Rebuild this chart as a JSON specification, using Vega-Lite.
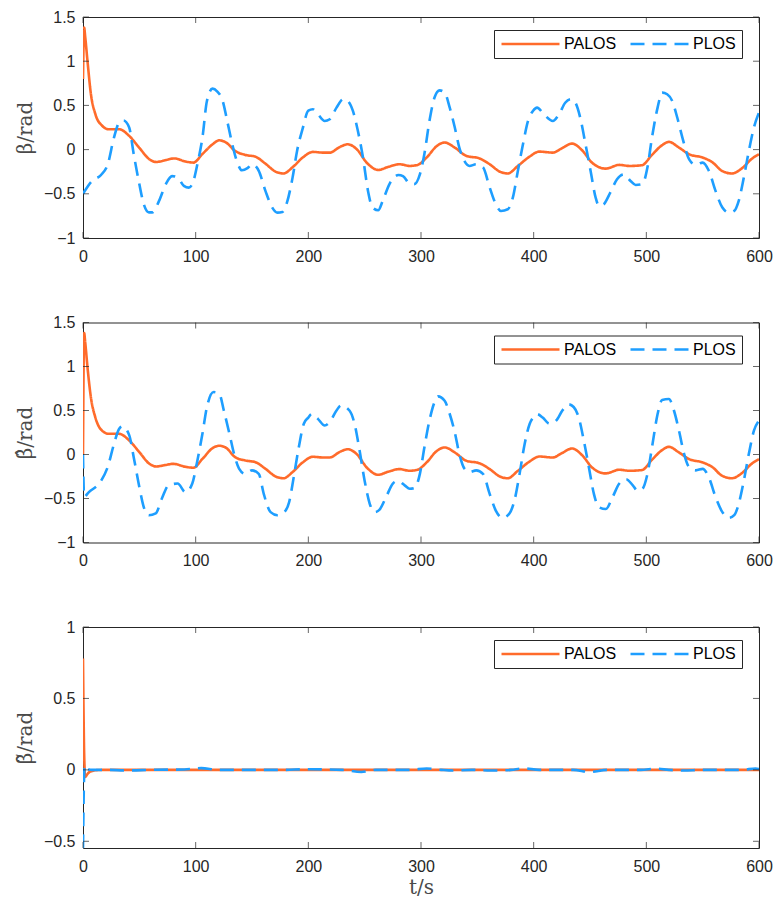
{
  "$schema": "https://vega.github.io/schema/vega-lite/v6.json",
  "background": "white",
  "padding": {"left": 14, "top": 8, "right": 14, "bottom": 10},
  "bounds": "flush",
  "spacing": 84.5,
  "config": {
    "view": {"stroke": "#262626", "strokeWidth": 1},
    "axis": {
      "grid": false,
      "domain": false,
      "ticks": false,
      "labelFlush": false,
      "labelFont": "Liberation Sans",
      "labelFontSize": 16,
      "labelColor": "#262626",
      "titleFont": "DejaVu Serif",
      "titleFontWeight": "normal",
      "titleFontSize": 20,
      "titleColor": "#4a4a4a"
    },
    "axisLeft": {"labelPadding": 8, "titlePadding": 8},
    "axisBottom": {"labelPadding": 10, "titlePadding": 3},
    "tick": {"color": "#262626", "thickness": 1, "size": 6},
    "legend": {
      "direction": "horizontal",
      "title": null,
      "strokeColor": "#262626",
      "fillColor": "white",
      "padding": 6,
      "labelFont": "Liberation Sans",
      "labelFontSize": 16,
      "labelColor": "#000000",
      "symbolType": "stroke",
      "symbolSize": 3364,
      "symbolStrokeWidth": 2.6,
      "clipHeight": 16,
      "labelOffset": 3,
      "columnPadding": 12,
      "labelLimit": 200
    }
  },
  "resolve": {
    "legend": {"color": "independent", "strokeDash": "independent"}
  },
  "datasets": {
    "xticks": [{"tick":0},{"tick":100},{"tick":200},{"tick":300},{"tick":400},{"tick":500},{"tick":600}],
    "yticksWide": [{"tick":-1},{"tick":-0.5},{"tick":0},{"tick":0.5},{"tick":1},{"tick":1.5}],
    "yticksErr": [{"tick":-0.5},{"tick":0},{"tick":0.5},{"tick":1}]
  },
  "data": {
    "values": [
      {"panel":1,"method":"PALOS","t":0,"v":0.8},{"panel":1,"method":"PALOS","t":1,"v":1.38},{"panel":1,"method":"PALOS","t":2,"v":1.27},{"panel":1,"method":"PALOS","t":4,"v":1.0},{"panel":1,"method":"PALOS","t":7,"v":0.63},{"panel":1,"method":"PALOS","t":11,"v":0.4},{"panel":1,"method":"PALOS","t":17,"v":0.27},{"panel":1,"method":"PALOS","t":23,"v":0.23},{"panel":1,"method":"PALOS","t":32,"v":0.23},{"panel":1,"method":"PALOS","t":41,"v":0.155},{"panel":1,"method":"PALOS","t":50,"v":0.02},{"panel":1,"method":"PALOS","t":59,"v":-0.11},{"panel":1,"method":"PALOS","t":65,"v":-0.14},{"panel":1,"method":"PALOS","t":73,"v":-0.12},{"panel":1,"method":"PALOS","t":81,"v":-0.1},{"panel":1,"method":"PALOS","t":91,"v":-0.135},{"panel":1,"method":"PALOS","t":98,"v":-0.147},{"panel":1,"method":"PALOS","t":106,"v":-0.05},{"panel":1,"method":"PALOS","t":115,"v":0.06},{"panel":1,"method":"PALOS","t":121,"v":0.105},{"panel":1,"method":"PALOS","t":127,"v":0.08},{"panel":1,"method":"PALOS","t":135,"v":-0.015},{"panel":1,"method":"PALOS","t":144,"v":-0.06},{"panel":1,"method":"PALOS","t":153,"v":-0.08},{"panel":1,"method":"PALOS","t":162,"v":-0.16},{"panel":1,"method":"PALOS","t":171,"v":-0.25},{"panel":1,"method":"PALOS","t":178,"v":-0.27},{"panel":1,"method":"PALOS","t":186,"v":-0.2},{"panel":1,"method":"PALOS","t":195,"v":-0.09},{"panel":1,"method":"PALOS","t":204,"v":-0.026},{"panel":1,"method":"PALOS","t":213,"v":-0.034},{"panel":1,"method":"PALOS","t":219,"v":-0.034},{"panel":1,"method":"PALOS","t":228,"v":0.03},{"panel":1,"method":"PALOS","t":235,"v":0.06},{"panel":1,"method":"PALOS","t":243,"v":0.004},{"panel":1,"method":"PALOS","t":252,"v":-0.15},{"panel":1,"method":"PALOS","t":262,"v":-0.23},{"panel":1,"method":"PALOS","t":271,"v":-0.195},{"panel":1,"method":"PALOS","t":281,"v":-0.166},{"panel":1,"method":"PALOS","t":290,"v":-0.185},{"panel":1,"method":"PALOS","t":297,"v":-0.173},{"panel":1,"method":"PALOS","t":305,"v":-0.09},{"panel":1,"method":"PALOS","t":314,"v":0.04},{"panel":1,"method":"PALOS","t":321,"v":0.08},{"panel":1,"method":"PALOS","t":330,"v":0.023},{"panel":1,"method":"PALOS","t":340,"v":-0.07},{"panel":1,"method":"PALOS","t":352,"v":-0.1},{"panel":1,"method":"PALOS","t":361,"v":-0.166},{"panel":1,"method":"PALOS","t":370,"v":-0.25},{"panel":1,"method":"PALOS","t":377,"v":-0.27},{"panel":1,"method":"PALOS","t":386,"v":-0.185},{"panel":1,"method":"PALOS","t":396,"v":-0.083},{"panel":1,"method":"PALOS","t":405,"v":-0.023},{"panel":1,"method":"PALOS","t":417,"v":-0.034},{"panel":1,"method":"PALOS","t":425,"v":0.015},{"panel":1,"method":"PALOS","t":434,"v":0.068},{"panel":1,"method":"PALOS","t":443,"v":-0.008},{"panel":1,"method":"PALOS","t":452,"v":-0.15},{"panel":1,"method":"PALOS","t":464,"v":-0.215},{"panel":1,"method":"PALOS","t":476,"v":-0.173},{"panel":1,"method":"PALOS","t":485,"v":-0.185},{"panel":1,"method":"PALOS","t":496,"v":-0.177},{"panel":1,"method":"PALOS","t":505,"v":-0.06},{"panel":1,"method":"PALOS","t":514,"v":0.05},{"panel":1,"method":"PALOS","t":520,"v":0.087},{"panel":1,"method":"PALOS","t":529,"v":0.023},{"panel":1,"method":"PALOS","t":538,"v":-0.053},{"panel":1,"method":"PALOS","t":550,"v":-0.09},{"panel":1,"method":"PALOS","t":559,"v":-0.147},{"panel":1,"method":"PALOS","t":567,"v":-0.24},{"panel":1,"method":"PALOS","t":576,"v":-0.27},{"panel":1,"method":"PALOS","t":585,"v":-0.21},{"panel":1,"method":"PALOS","t":594,"v":-0.1},{"panel":1,"method":"PALOS","t":600,"v":-0.053},

      {"panel":1,"method":"PLOS","t":0,"v":-0.5},{"panel":1,"method":"PLOS","t":8,"v":-0.355},{"panel":1,"method":"PLOS","t":16,"v":-0.287},{"panel":1,"method":"PLOS","t":22,"v":-0.166},{"panel":1,"method":"PLOS","t":27.5,"v":0.136},{"panel":1,"method":"PLOS","t":32,"v":0.305},{"panel":1,"method":"PLOS","t":36,"v":0.33},{"panel":1,"method":"PLOS","t":41,"v":0.25},{"panel":1,"method":"PLOS","t":45,"v":-0.05},{"panel":1,"method":"PLOS","t":50,"v":-0.39},{"panel":1,"method":"PLOS","t":54,"v":-0.62},{"panel":1,"method":"PLOS","t":58.5,"v":-0.71},{"panel":1,"method":"PLOS","t":61.5,"v":-0.71},{"panel":1,"method":"PLOS","t":67.5,"v":-0.58},{"panel":1,"method":"PLOS","t":73.5,"v":-0.39},{"panel":1,"method":"PLOS","t":79,"v":-0.3},{"panel":1,"method":"PLOS","t":84,"v":-0.317},{"panel":1,"method":"PLOS","t":89.5,"v":-0.41},{"panel":1,"method":"PLOS","t":94,"v":-0.43},{"panel":1,"method":"PLOS","t":98.5,"v":-0.335},{"panel":1,"method":"PLOS","t":101.5,"v":-0.166},{"panel":1,"method":"PLOS","t":106,"v":0.136},{"panel":1,"method":"PLOS","t":110,"v":0.55},{"panel":1,"method":"PLOS","t":115,"v":0.69},{"panel":1,"method":"PLOS","t":119,"v":0.66},{"panel":1,"method":"PLOS","t":124,"v":0.55},{"panel":1,"method":"PLOS","t":128,"v":0.324},{"panel":1,"method":"PLOS","t":132.5,"v":0.06},{"panel":1,"method":"PLOS","t":137,"v":-0.147},{"panel":1,"method":"PLOS","t":141,"v":-0.234},{"panel":1,"method":"PLOS","t":146,"v":-0.21},{"panel":1,"method":"PLOS","t":150,"v":-0.166},{"panel":1,"method":"PLOS","t":156,"v":-0.24},{"panel":1,"method":"PLOS","t":162,"v":-0.47},{"panel":1,"method":"PLOS","t":168,"v":-0.656},{"panel":1,"method":"PLOS","t":172.5,"v":-0.713},{"panel":1,"method":"PLOS","t":177,"v":-0.705},{"panel":1,"method":"PLOS","t":181,"v":-0.6},{"panel":1,"method":"PLOS","t":186,"v":-0.317},{"panel":1,"method":"PLOS","t":190,"v":-0.015},{"panel":1,"method":"PLOS","t":195,"v":0.24},{"panel":1,"method":"PLOS","t":200,"v":0.44},{"panel":1,"method":"PLOS","t":204,"v":0.456},{"panel":1,"method":"PLOS","t":208.5,"v":0.4},{"panel":1,"method":"PLOS","t":214.5,"v":0.324},{"panel":1,"method":"PLOS","t":219,"v":0.343},{"panel":1,"method":"PLOS","t":225,"v":0.475},{"panel":1,"method":"PLOS","t":231,"v":0.57},{"panel":1,"method":"PLOS","t":235,"v":0.55},{"panel":1,"method":"PLOS","t":239.5,"v":0.44},{"panel":1,"method":"PLOS","t":244,"v":0.21},{"panel":1,"method":"PLOS","t":248.5,"v":-0.09},{"panel":1,"method":"PLOS","t":253,"v":-0.47},{"panel":1,"method":"PLOS","t":257,"v":-0.656},{"panel":1,"method":"PLOS","t":262,"v":-0.686},{"panel":1,"method":"PLOS","t":266,"v":-0.58},{"panel":1,"method":"PLOS","t":272,"v":-0.39},{"panel":1,"method":"PLOS","t":280,"v":-0.287},{"panel":1,"method":"PLOS","t":284,"v":-0.3},{"panel":1,"method":"PLOS","t":290,"v":-0.385},{"panel":1,"method":"PLOS","t":294,"v":-0.39},{"panel":1,"method":"PLOS","t":299,"v":-0.28},{"panel":1,"method":"PLOS","t":303,"v":-0.05},{"panel":1,"method":"PLOS","t":307.5,"v":0.324},{"panel":1,"method":"PLOS","t":312,"v":0.59},{"panel":1,"method":"PLOS","t":316.5,"v":0.67},{"panel":1,"method":"PLOS","t":321,"v":0.645},{"panel":1,"method":"PLOS","t":325.5,"v":0.475},{"panel":1,"method":"PLOS","t":330,"v":0.25},{"panel":1,"method":"PLOS","t":334,"v":0.023},{"panel":1,"method":"PLOS","t":338.5,"v":-0.128},{"panel":1,"method":"PLOS","t":343,"v":-0.185},{"panel":1,"method":"PLOS","t":349,"v":-0.166},{"panel":1,"method":"PLOS","t":355,"v":-0.2},{"panel":1,"method":"PLOS","t":361,"v":-0.43},{"panel":1,"method":"PLOS","t":366.5,"v":-0.62},{"panel":1,"method":"PLOS","t":371,"v":-0.694},{"panel":1,"method":"PLOS","t":377,"v":-0.675},{"panel":1,"method":"PLOS","t":381.5,"v":-0.543},{"panel":1,"method":"PLOS","t":386,"v":-0.24},{"panel":1,"method":"PLOS","t":390.5,"v":0.06},{"panel":1,"method":"PLOS","t":395,"v":0.324},{"panel":1,"method":"PLOS","t":399.5,"v":0.44},{"panel":1,"method":"PLOS","t":403,"v":0.475},{"panel":1,"method":"PLOS","t":409,"v":0.4},{"panel":1,"method":"PLOS","t":417,"v":0.324},{"panel":1,"method":"PLOS","t":422.5,"v":0.4},{"panel":1,"method":"PLOS","t":428,"v":0.53},{"panel":1,"method":"PLOS","t":433,"v":0.57},{"panel":1,"method":"PLOS","t":437,"v":0.53},{"panel":1,"method":"PLOS","t":442,"v":0.324},{"panel":1,"method":"PLOS","t":446,"v":0.06},{"panel":1,"method":"PLOS","t":450.5,"v":-0.24},{"panel":1,"method":"PLOS","t":455,"v":-0.543},{"panel":1,"method":"PLOS","t":458,"v":-0.637},{"panel":1,"method":"PLOS","t":462,"v":-0.62},{"panel":1,"method":"PLOS","t":468,"v":-0.486},{"panel":1,"method":"PLOS","t":474,"v":-0.335},{"panel":1,"method":"PLOS","t":480,"v":-0.28},{"panel":1,"method":"PLOS","t":486,"v":-0.355},{"panel":1,"method":"PLOS","t":490.5,"v":-0.4},{"panel":1,"method":"PLOS","t":496.5,"v":-0.39},{"panel":1,"method":"PLOS","t":501,"v":-0.2},{"panel":1,"method":"PLOS","t":505,"v":0.136},{"panel":1,"method":"PLOS","t":510,"v":0.475},{"panel":1,"method":"PLOS","t":514,"v":0.645},{"panel":1,"method":"PLOS","t":518.5,"v":0.626},{"panel":1,"method":"PLOS","t":523,"v":0.55},{"panel":1,"method":"PLOS","t":527.5,"v":0.36},{"panel":1,"method":"PLOS","t":532,"v":0.136},{"panel":1,"method":"PLOS","t":538,"v":-0.11},{"panel":1,"method":"PLOS","t":544,"v":-0.173},{"panel":1,"method":"PLOS","t":550,"v":-0.147},{"panel":1,"method":"PLOS","t":555.5,"v":-0.24},{"panel":1,"method":"PLOS","t":561.5,"v":-0.47},{"panel":1,"method":"PLOS","t":567.5,"v":-0.656},{"panel":1,"method":"PLOS","t":573.5,"v":-0.713},{"panel":1,"method":"PLOS","t":578,"v":-0.694},{"panel":1,"method":"PLOS","t":582,"v":-0.58},{"panel":1,"method":"PLOS","t":586.5,"v":-0.317},{"panel":1,"method":"PLOS","t":591,"v":-0.015},{"panel":1,"method":"PLOS","t":595.5,"v":0.25},{"panel":1,"method":"PLOS","t":600,"v":0.42},

      {"panel":2,"method":"PALOS","t":0,"v":0},{"panel":2,"method":"PALOS","t":1,"v":1.38},{"panel":2,"method":"PALOS","t":2,"v":1.27},{"panel":2,"method":"PALOS","t":4,"v":0.99},{"panel":2,"method":"PALOS","t":7,"v":0.65},{"panel":2,"method":"PALOS","t":11,"v":0.42},{"panel":2,"method":"PALOS","t":17,"v":0.27},{"panel":2,"method":"PALOS","t":23,"v":0.235},{"panel":2,"method":"PALOS","t":32,"v":0.235},{"panel":2,"method":"PALOS","t":41,"v":0.16},{"panel":2,"method":"PALOS","t":50,"v":0.027},{"panel":2,"method":"PALOS","t":59,"v":-0.106},{"panel":2,"method":"PALOS","t":65,"v":-0.136},{"panel":2,"method":"PALOS","t":73,"v":-0.12},{"panel":2,"method":"PALOS","t":80,"v":-0.106},{"panel":2,"method":"PALOS","t":91,"v":-0.14},{"panel":2,"method":"PALOS","t":98,"v":-0.15},{"panel":2,"method":"PALOS","t":106,"v":-0.05},{"panel":2,"method":"PALOS","t":115,"v":0.072},{"panel":2,"method":"PALOS","t":121,"v":0.1},{"panel":2,"method":"PALOS","t":127,"v":0.076},{"panel":2,"method":"PALOS","t":135,"v":-0.03},{"panel":2,"method":"PALOS","t":144,"v":-0.068},{"panel":2,"method":"PALOS","t":153,"v":-0.087},{"panel":2,"method":"PALOS","t":162,"v":-0.163},{"panel":2,"method":"PALOS","t":171,"v":-0.25},{"panel":2,"method":"PALOS","t":178,"v":-0.27},{"panel":2,"method":"PALOS","t":186,"v":-0.2},{"panel":2,"method":"PALOS","t":195,"v":-0.09},{"panel":2,"method":"PALOS","t":204,"v":-0.026},{"panel":2,"method":"PALOS","t":213,"v":-0.034},{"panel":2,"method":"PALOS","t":219,"v":-0.034},{"panel":2,"method":"PALOS","t":228,"v":0.03},{"panel":2,"method":"PALOS","t":235,"v":0.06},{"panel":2,"method":"PALOS","t":243,"v":0.004},{"panel":2,"method":"PALOS","t":252,"v":-0.15},{"panel":2,"method":"PALOS","t":262,"v":-0.23},{"panel":2,"method":"PALOS","t":271,"v":-0.195},{"panel":2,"method":"PALOS","t":281,"v":-0.166},{"panel":2,"method":"PALOS","t":290,"v":-0.185},{"panel":2,"method":"PALOS","t":297,"v":-0.173},{"panel":2,"method":"PALOS","t":305,"v":-0.09},{"panel":2,"method":"PALOS","t":314,"v":0.04},{"panel":2,"method":"PALOS","t":321,"v":0.08},{"panel":2,"method":"PALOS","t":330,"v":0.023},{"panel":2,"method":"PALOS","t":340,"v":-0.07},{"panel":2,"method":"PALOS","t":352,"v":-0.1},{"panel":2,"method":"PALOS","t":361,"v":-0.166},{"panel":2,"method":"PALOS","t":370,"v":-0.25},{"panel":2,"method":"PALOS","t":377,"v":-0.27},{"panel":2,"method":"PALOS","t":386,"v":-0.185},{"panel":2,"method":"PALOS","t":396,"v":-0.083},{"panel":2,"method":"PALOS","t":405,"v":-0.023},{"panel":2,"method":"PALOS","t":417,"v":-0.034},{"panel":2,"method":"PALOS","t":425,"v":0.015},{"panel":2,"method":"PALOS","t":434,"v":0.068},{"panel":2,"method":"PALOS","t":443,"v":-0.008},{"panel":2,"method":"PALOS","t":452,"v":-0.15},{"panel":2,"method":"PALOS","t":464,"v":-0.215},{"panel":2,"method":"PALOS","t":476,"v":-0.173},{"panel":2,"method":"PALOS","t":485,"v":-0.185},{"panel":2,"method":"PALOS","t":496,"v":-0.177},{"panel":2,"method":"PALOS","t":505,"v":-0.06},{"panel":2,"method":"PALOS","t":514,"v":0.05},{"panel":2,"method":"PALOS","t":520,"v":0.087},{"panel":2,"method":"PALOS","t":529,"v":0.023},{"panel":2,"method":"PALOS","t":538,"v":-0.053},{"panel":2,"method":"PALOS","t":550,"v":-0.09},{"panel":2,"method":"PALOS","t":559,"v":-0.147},{"panel":2,"method":"PALOS","t":567,"v":-0.24},{"panel":2,"method":"PALOS","t":576,"v":-0.27},{"panel":2,"method":"PALOS","t":585,"v":-0.21},{"panel":2,"method":"PALOS","t":594,"v":-0.1},{"panel":2,"method":"PALOS","t":600,"v":-0.053},

      {"panel":2,"method":"PLOS","t":0,"v":0},{"panel":2,"method":"PLOS","t":1,"v":-0.48},{"panel":2,"method":"PLOS","t":5,"v":-0.43},{"panel":2,"method":"PLOS","t":16,"v":-0.3},{"panel":2,"method":"PLOS","t":22,"v":-0.14},{"panel":2,"method":"PLOS","t":27.5,"v":0.12},{"panel":2,"method":"PLOS","t":32,"v":0.29},{"panel":2,"method":"PLOS","t":35,"v":0.32},{"panel":2,"method":"PLOS","t":41,"v":0.22},{"panel":2,"method":"PLOS","t":45,"v":-0.03},{"panel":2,"method":"PLOS","t":50,"v":-0.37},{"panel":2,"method":"PLOS","t":54,"v":-0.6},{"panel":2,"method":"PLOS","t":58.5,"v":-0.69},{"panel":2,"method":"PLOS","t":64.5,"v":-0.67},{"panel":2,"method":"PLOS","t":70,"v":-0.5},{"panel":2,"method":"PLOS","t":76,"v":-0.35},{"panel":2,"method":"PLOS","t":84,"v":-0.33},{"panel":2,"method":"PLOS","t":91,"v":-0.43},{"panel":2,"method":"PLOS","t":97,"v":-0.33},{"panel":2,"method":"PLOS","t":101.5,"v":-0.07},{"panel":2,"method":"PLOS","t":106,"v":0.235},{"panel":2,"method":"PLOS","t":110,"v":0.54},{"panel":2,"method":"PLOS","t":116,"v":0.71},{"panel":2,"method":"PLOS","t":121,"v":0.69},{"panel":2,"method":"PLOS","t":125,"v":0.5},{"panel":2,"method":"PLOS","t":130,"v":0.235},{"panel":2,"method":"PLOS","t":134,"v":0.01},{"panel":2,"method":"PLOS","t":138.5,"v":-0.16},{"panel":2,"method":"PLOS","t":144,"v":-0.22},{"panel":2,"method":"PLOS","t":150,"v":-0.18},{"panel":2,"method":"PLOS","t":156,"v":-0.22},{"panel":2,"method":"PLOS","t":160.5,"v":-0.45},{"panel":2,"method":"PLOS","t":166.5,"v":-0.655},{"panel":2,"method":"PLOS","t":172.5,"v":-0.69},{"panel":2,"method":"PLOS","t":178.5,"v":-0.655},{"panel":2,"method":"PLOS","t":183,"v":-0.54},{"panel":2,"method":"PLOS","t":187,"v":-0.26},{"panel":2,"method":"PLOS","t":191.5,"v":0.08},{"panel":2,"method":"PLOS","t":196,"v":0.35},{"panel":2,"method":"PLOS","t":200,"v":0.42},{"panel":2,"method":"PLOS","t":203,"v":0.46},{"panel":2,"method":"PLOS","t":208.5,"v":0.405},{"panel":2,"method":"PLOS","t":214.5,"v":0.33},{"panel":2,"method":"PLOS","t":219,"v":0.37},{"panel":2,"method":"PLOS","t":225,"v":0.5},{"panel":2,"method":"PLOS","t":229,"v":0.557},{"panel":2,"method":"PLOS","t":236.5,"v":0.5},{"panel":2,"method":"PLOS","t":241,"v":0.35},{"panel":2,"method":"PLOS","t":245.5,"v":0.045},{"panel":2,"method":"PLOS","t":250,"v":-0.3},{"panel":2,"method":"PLOS","t":254.5,"v":-0.56},{"panel":2,"method":"PLOS","t":259,"v":-0.655},{"panel":2,"method":"PLOS","t":263,"v":-0.63},{"panel":2,"method":"PLOS","t":269,"v":-0.485},{"panel":2,"method":"PLOS","t":275,"v":-0.33},{"panel":2,"method":"PLOS","t":279.5,"v":-0.3},{"panel":2,"method":"PLOS","t":285.5,"v":-0.35},{"panel":2,"method":"PLOS","t":290,"v":-0.39},{"panel":2,"method":"PLOS","t":294.5,"v":-0.38},{"panel":2,"method":"PLOS","t":299,"v":-0.22},{"panel":2,"method":"PLOS","t":303,"v":0.08},{"panel":2,"method":"PLOS","t":307.5,"v":0.386},{"panel":2,"method":"PLOS","t":312,"v":0.595},{"panel":2,"method":"PLOS","t":315,"v":0.66},{"panel":2,"method":"PLOS","t":321,"v":0.61},{"panel":2,"method":"PLOS","t":325.5,"v":0.46},{"panel":2,"method":"PLOS","t":330,"v":0.25},{"panel":2,"method":"PLOS","t":334,"v":0.008},{"panel":2,"method":"PLOS","t":338.5,"v":-0.16},{"panel":2,"method":"PLOS","t":343,"v":-0.2},{"panel":2,"method":"PLOS","t":349,"v":-0.18},{"panel":2,"method":"PLOS","t":355,"v":-0.22},{"panel":2,"method":"PLOS","t":361,"v":-0.45},{"panel":2,"method":"PLOS","t":366.5,"v":-0.64},{"panel":2,"method":"PLOS","t":372.5,"v":-0.72},{"panel":2,"method":"PLOS","t":378.5,"v":-0.67},{"panel":2,"method":"PLOS","t":383,"v":-0.52},{"panel":2,"method":"PLOS","t":387.5,"v":-0.22},{"panel":2,"method":"PLOS","t":392,"v":0.12},{"panel":2,"method":"PLOS","t":396.5,"v":0.35},{"panel":2,"method":"PLOS","t":399.5,"v":0.42},{"panel":2,"method":"PLOS","t":403,"v":0.46},{"panel":2,"method":"PLOS","t":408,"v":0.42},{"panel":2,"method":"PLOS","t":414,"v":0.35},{"panel":2,"method":"PLOS","t":420,"v":0.386},{"panel":2,"method":"PLOS","t":425.5,"v":0.5},{"panel":2,"method":"PLOS","t":431,"v":0.57},{"panel":2,"method":"PLOS","t":435.5,"v":0.54},{"panel":2,"method":"PLOS","t":440,"v":0.42},{"panel":2,"method":"PLOS","t":444.5,"v":0.16},{"panel":2,"method":"PLOS","t":449,"v":-0.144},{"panel":2,"method":"PLOS","t":453.5,"v":-0.45},{"panel":2,"method":"PLOS","t":458,"v":-0.6},{"panel":2,"method":"PLOS","t":464,"v":-0.62},{"panel":2,"method":"PLOS","t":470,"v":-0.485},{"panel":2,"method":"PLOS","t":476,"v":-0.33},{"panel":2,"method":"PLOS","t":482,"v":-0.28},{"panel":2,"method":"PLOS","t":488,"v":-0.35},{"panel":2,"method":"PLOS","t":492,"v":-0.41},{"panel":2,"method":"PLOS","t":496.5,"v":-0.39},{"panel":2,"method":"PLOS","t":501,"v":-0.22},{"panel":2,"method":"PLOS","t":505.5,"v":0.12},{"panel":2,"method":"PLOS","t":510,"v":0.46},{"panel":2,"method":"PLOS","t":514,"v":0.62},{"panel":2,"method":"PLOS","t":520,"v":0.63},{"panel":2,"method":"PLOS","t":524.5,"v":0.5},{"panel":2,"method":"PLOS","t":529,"v":0.27},{"panel":2,"method":"PLOS","t":533.5,"v":0.008},{"panel":2,"method":"PLOS","t":538,"v":-0.144},{"panel":2,"method":"PLOS","t":544,"v":-0.18},{"panel":2,"method":"PLOS","t":550,"v":-0.163},{"panel":2,"method":"PLOS","t":555.5,"v":-0.26},{"panel":2,"method":"PLOS","t":561.5,"v":-0.485},{"panel":2,"method":"PLOS","t":567.5,"v":-0.655},{"panel":2,"method":"PLOS","t":573.5,"v":-0.72},{"panel":2,"method":"PLOS","t":578,"v":-0.69},{"panel":2,"method":"PLOS","t":582,"v":-0.56},{"panel":2,"method":"PLOS","t":586.5,"v":-0.3},{"panel":2,"method":"PLOS","t":591,"v":0.008},{"panel":2,"method":"PLOS","t":595.5,"v":0.27},{"panel":2,"method":"PLOS","t":600,"v":0.386},

      {"panel":3,"method":"PALOS","t":0,"v":0.78},{"panel":3,"method":"PALOS","t":0.5,"v":0.4},{"panel":3,"method":"PALOS","t":1,"v":0.12},{"panel":3,"method":"PALOS","t":2,"v":-0.05},{"panel":3,"method":"PALOS","t":3,"v":-0.04},{"panel":3,"method":"PALOS","t":5,"v":-0.02},{"panel":3,"method":"PALOS","t":8,"v":-0.008},{"panel":3,"method":"PALOS","t":12,"v":-0.002},{"panel":3,"method":"PALOS","t":20,"v":0},{"panel":3,"method":"PALOS","t":100,"v":0},{"panel":3,"method":"PALOS","t":200,"v":0},{"panel":3,"method":"PALOS","t":300,"v":0},{"panel":3,"method":"PALOS","t":400,"v":0},{"panel":3,"method":"PALOS","t":500,"v":0},{"panel":3,"method":"PALOS","t":600,"v":0},

      {"panel":3,"method":"PLOS","t":0,"v":-0.55},{"panel":3,"method":"PLOS","t":0.8,"v":-0.1},{"panel":3,"method":"PLOS","t":1.5,"v":0.03},{"panel":3,"method":"PLOS","t":3,"v":0.01},{"panel":3,"method":"PLOS","t":8,"v":0},{"panel":3,"method":"PLOS","t":20,"v":0},{"panel":3,"method":"PLOS","t":40,"v":-0.004},{"panel":3,"method":"PLOS","t":60,"v":0},{"panel":3,"method":"PLOS","t":90,"v":0.003},{"panel":3,"method":"PLOS","t":105,"v":0.012},{"panel":3,"method":"PLOS","t":120,"v":0},{"panel":3,"method":"PLOS","t":180,"v":0},{"panel":3,"method":"PLOS","t":195,"v":0.004},{"panel":3,"method":"PLOS","t":230,"v":0},{"panel":3,"method":"PLOS","t":247,"v":-0.015},{"panel":3,"method":"PLOS","t":260,"v":0},{"panel":3,"method":"PLOS","t":290,"v":0},{"panel":3,"method":"PLOS","t":305,"v":0.01},{"panel":3,"method":"PLOS","t":318,"v":0},{"panel":3,"method":"PLOS","t":328,"v":-0.005},{"panel":3,"method":"PLOS","t":345,"v":0},{"panel":3,"method":"PLOS","t":366,"v":-0.005},{"panel":3,"method":"PLOS","t":380,"v":0},{"panel":3,"method":"PLOS","t":391,"v":0.01},{"panel":3,"method":"PLOS","t":405,"v":0},{"panel":3,"method":"PLOS","t":435,"v":0},{"panel":3,"method":"PLOS","t":450,"v":-0.015},{"panel":3,"method":"PLOS","t":465,"v":0},{"panel":3,"method":"PLOS","t":495,"v":0},{"panel":3,"method":"PLOS","t":509,"v":0.008},{"panel":3,"method":"PLOS","t":520,"v":0},{"panel":3,"method":"PLOS","t":533,"v":-0.005},{"panel":3,"method":"PLOS","t":550,"v":0},{"panel":3,"method":"PLOS","t":585,"v":0},{"panel":3,"method":"PLOS","t":597,"v":0.01},{"panel":3,"method":"PLOS","t":600,"v":0.006}
    ]
  },
  "vconcat": [
    {
      "width": 676,
      "height": 221,
      "layer": [
        {
          "transform": [{"filter": "datum.panel == 1"}],
          "mark": {"type": "line", "interpolate": "monotone", "strokeWidth": 2.6, "clip": true},
          "encoding": {
            "x": {"field": "t", "type": "quantitative", "scale": {"domain": [0, 600], "nice": false}, "axis": {"values": [0, 100, 200, 300, 400, 500, 600], "title": null, "format": "d"}},
            "y": {"field": "v", "type": "quantitative", "scale": {"domain": [-1, 1.5], "nice": false, "zero": false}, "axis": {"values": [-1, -0.5, 0, 0.5, 1, 1.5], "title": "\u03b2/rad", "format": "~g"}},
            "color": {"field": "method", "type": "nominal", "scale": {"domain": ["PALOS", "PLOS"], "range": ["#FF6B2B", "#1E9EFF"]}, "legend": {"orient": "none", "legendX": 411, "legendY": 13}},
            "strokeDash": {"field": "method", "type": "nominal", "scale": {"domain": ["PALOS", "PLOS"], "range": [[1, 0], [14, 8]]}}
          }
        },
        {"data": {"name": "xticks"}, "mark": {"type": "tick", "orient": "vertical", "yOffset": -3}, "encoding": {"x": {"field": "tick", "type": "quantitative", "title": null}, "y": {"datum": -1, "type": "quantitative", "title": "\u03b2/rad"}}},
        {"data": {"name": "xticks"}, "mark": {"type": "tick", "orient": "vertical", "yOffset": 3}, "encoding": {"x": {"field": "tick", "type": "quantitative", "title": null}, "y": {"datum": 1.5, "type": "quantitative", "title": "\u03b2/rad"}}},
        {"data": {"name": "yticksWide"}, "mark": {"type": "tick", "orient": "horizontal", "xOffset": 3}, "encoding": {"y": {"field": "tick", "type": "quantitative", "title": "\u03b2/rad"}, "x": {"datum": 0, "type": "quantitative", "title": null}}},
        {"data": {"name": "yticksWide"}, "mark": {"type": "tick", "orient": "horizontal", "xOffset": -3}, "encoding": {"y": {"field": "tick", "type": "quantitative", "title": "\u03b2/rad"}, "x": {"datum": 600, "type": "quantitative", "title": null}}}
      ]
    },
    {
      "width": 676,
      "height": 220,
      "layer": [
        {
          "transform": [{"filter": "datum.panel == 2"}],
          "mark": {"type": "line", "interpolate": "monotone", "strokeWidth": 2.6, "clip": true},
          "encoding": {
            "x": {"field": "t", "type": "quantitative", "scale": {"domain": [0, 600], "nice": false}, "axis": {"values": [0, 100, 200, 300, 400, 500, 600], "title": null, "format": "d"}},
            "y": {"field": "v", "type": "quantitative", "scale": {"domain": [-1, 1.5], "nice": false, "zero": false}, "axis": {"values": [-1, -0.5, 0, 0.5, 1, 1.5], "title": "\u03b2\u0302/rad", "format": "~g"}},
            "color": {"field": "method", "type": "nominal", "scale": {"domain": ["PALOS", "PLOS"], "range": ["#FF6B2B", "#1E9EFF"]}, "legend": {"orient": "none", "legendX": 411, "legendY": 13}},
            "strokeDash": {"field": "method", "type": "nominal", "scale": {"domain": ["PALOS", "PLOS"], "range": [[1, 0], [14, 8]]}}
          }
        },
        {"data": {"name": "xticks"}, "mark": {"type": "tick", "orient": "vertical", "yOffset": -3}, "encoding": {"x": {"field": "tick", "type": "quantitative", "title": null}, "y": {"datum": -1, "type": "quantitative", "title": "\u03b2\u0302/rad"}}},
        {"data": {"name": "xticks"}, "mark": {"type": "tick", "orient": "vertical", "yOffset": 3}, "encoding": {"x": {"field": "tick", "type": "quantitative", "title": null}, "y": {"datum": 1.5, "type": "quantitative", "title": "\u03b2\u0302/rad"}}},
        {"data": {"name": "yticksWide"}, "mark": {"type": "tick", "orient": "horizontal", "xOffset": 3}, "encoding": {"y": {"field": "tick", "type": "quantitative", "title": "\u03b2\u0302/rad"}, "x": {"datum": 0, "type": "quantitative", "title": null}}},
        {"data": {"name": "yticksWide"}, "mark": {"type": "tick", "orient": "horizontal", "xOffset": -3}, "encoding": {"y": {"field": "tick", "type": "quantitative", "title": "\u03b2\u0302/rad"}, "x": {"datum": 600, "type": "quantitative", "title": null}}}
      ]
    },
    {
      "width": 676,
      "height": 221,
      "layer": [
        {
          "transform": [{"filter": "datum.panel == 3"}],
          "mark": {"type": "line", "interpolate": "monotone", "strokeWidth": 2.6, "clip": true},
          "encoding": {
            "x": {"field": "t", "type": "quantitative", "scale": {"domain": [0, 600], "nice": false}, "axis": {"values": [0, 100, 200, 300, 400, 500, 600], "title": "t/s", "format": "d"}},
            "y": {"field": "v", "type": "quantitative", "scale": {"domain": [-0.547, 1], "nice": false, "zero": false}, "axis": {"values": [-0.5, 0, 0.5, 1], "title": "\u03b2\u0303/rad", "format": "~g"}},
            "color": {"field": "method", "type": "nominal", "scale": {"domain": ["PALOS", "PLOS"], "range": ["#FF6B2B", "#1E9EFF"]}, "legend": {"orient": "none", "legendX": 411, "legendY": 13}},
            "strokeDash": {"field": "method", "type": "nominal", "scale": {"domain": ["PALOS", "PLOS"], "range": [[1, 0], [14, 8]]}}
          }
        },
        {"data": {"name": "xticks"}, "mark": {"type": "tick", "orient": "vertical", "yOffset": -3}, "encoding": {"x": {"field": "tick", "type": "quantitative", "title": "t/s"}, "y": {"datum": -0.547, "type": "quantitative", "title": "\u03b2\u0303/rad"}}},
        {"data": {"name": "xticks"}, "mark": {"type": "tick", "orient": "vertical", "yOffset": 3}, "encoding": {"x": {"field": "tick", "type": "quantitative", "title": "t/s"}, "y": {"datum": 1, "type": "quantitative", "title": "\u03b2\u0303/rad"}}},
        {"data": {"name": "yticksErr"}, "mark": {"type": "tick", "orient": "horizontal", "xOffset": 3}, "encoding": {"y": {"field": "tick", "type": "quantitative", "title": "\u03b2\u0303/rad"}, "x": {"datum": 0, "type": "quantitative", "title": "t/s"}}},
        {"data": {"name": "yticksErr"}, "mark": {"type": "tick", "orient": "horizontal", "xOffset": -3}, "encoding": {"y": {"field": "tick", "type": "quantitative", "title": "\u03b2\u0303/rad"}, "x": {"datum": 600, "type": "quantitative", "title": "t/s"}}}
      ]
    }
  ]
}
